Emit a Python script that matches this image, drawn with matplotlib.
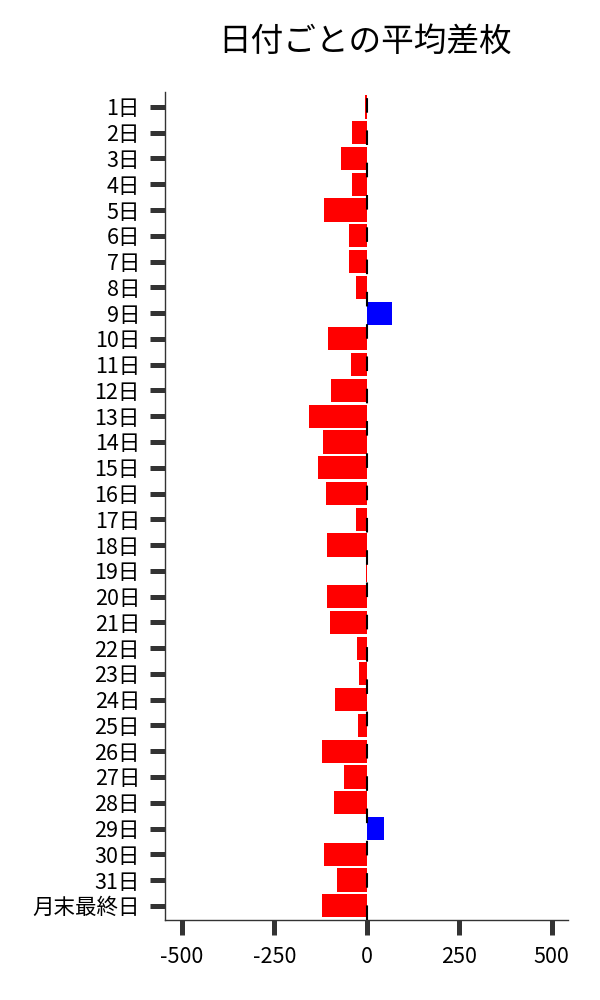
import matplotlib
matplotlib.use("Agg")
import matplotlib.pyplot as plt

plt.rcParams['font.family'] = ['Noto Sans CJK JP', 'DejaVu Sans']

# 日付ラベルと平均差枚
days = [f"{d}日" for d in range(1, 32)] + ["月末最終日"]
diffs = [-4, -40, -70, -40, -116, -48, -48, -29, 67, -104,
         -42, -97, -157, -119, -132, -111, -29, -108, -2, -108,
         -99, -27, -21, -86, -24, -121, -62, -89, 46, -116,
         -81, -120]
xticks = [-500, -250, 0, 250, 500]

colors = ["#0000ff" if v > 0 else "#ff0000" for v in diffs]

fig = plt.figure(figsize=(6, 10), dpi=100)
ax = fig.add_axes([0.275, 0.08, 0.672, 0.828])

ypos = list(range(len(days)))
ax.barh(ypos, diffs, height=0.9, color=colors, zorder=2)
ax.axvline(0, color="black", lw=1.5, ls=(0, (7, 8.5)), zorder=3)

ax.set_yticks(ypos)
ax.set_yticklabels(days)
ax.set_ylim(len(days) - 0.45, -0.58)
ax.set_xlim(-546, 545)
ax.set_xticks(xticks)
ax.set_xticklabels([str(t) for t in xticks])

ax.tick_params(axis="both", length=11, width=3.6, color="#333333",
               labelsize=15.5)
ax.tick_params(axis="y", pad=7)
ax.tick_params(axis="x", pad=8)
for s in ["top", "right"]:
    ax.spines[s].set_visible(False)
for s in ["left", "bottom"]:
    ax.spines[s].set_color("#333333")
    ax.spines[s].set_linewidth(1.0)

fig.text(0.608, 0.958, "日付ごとの平均差枚", ha="center", va="center", fontsize=23.5)

fig.savefig("out.png", dpi=100)
